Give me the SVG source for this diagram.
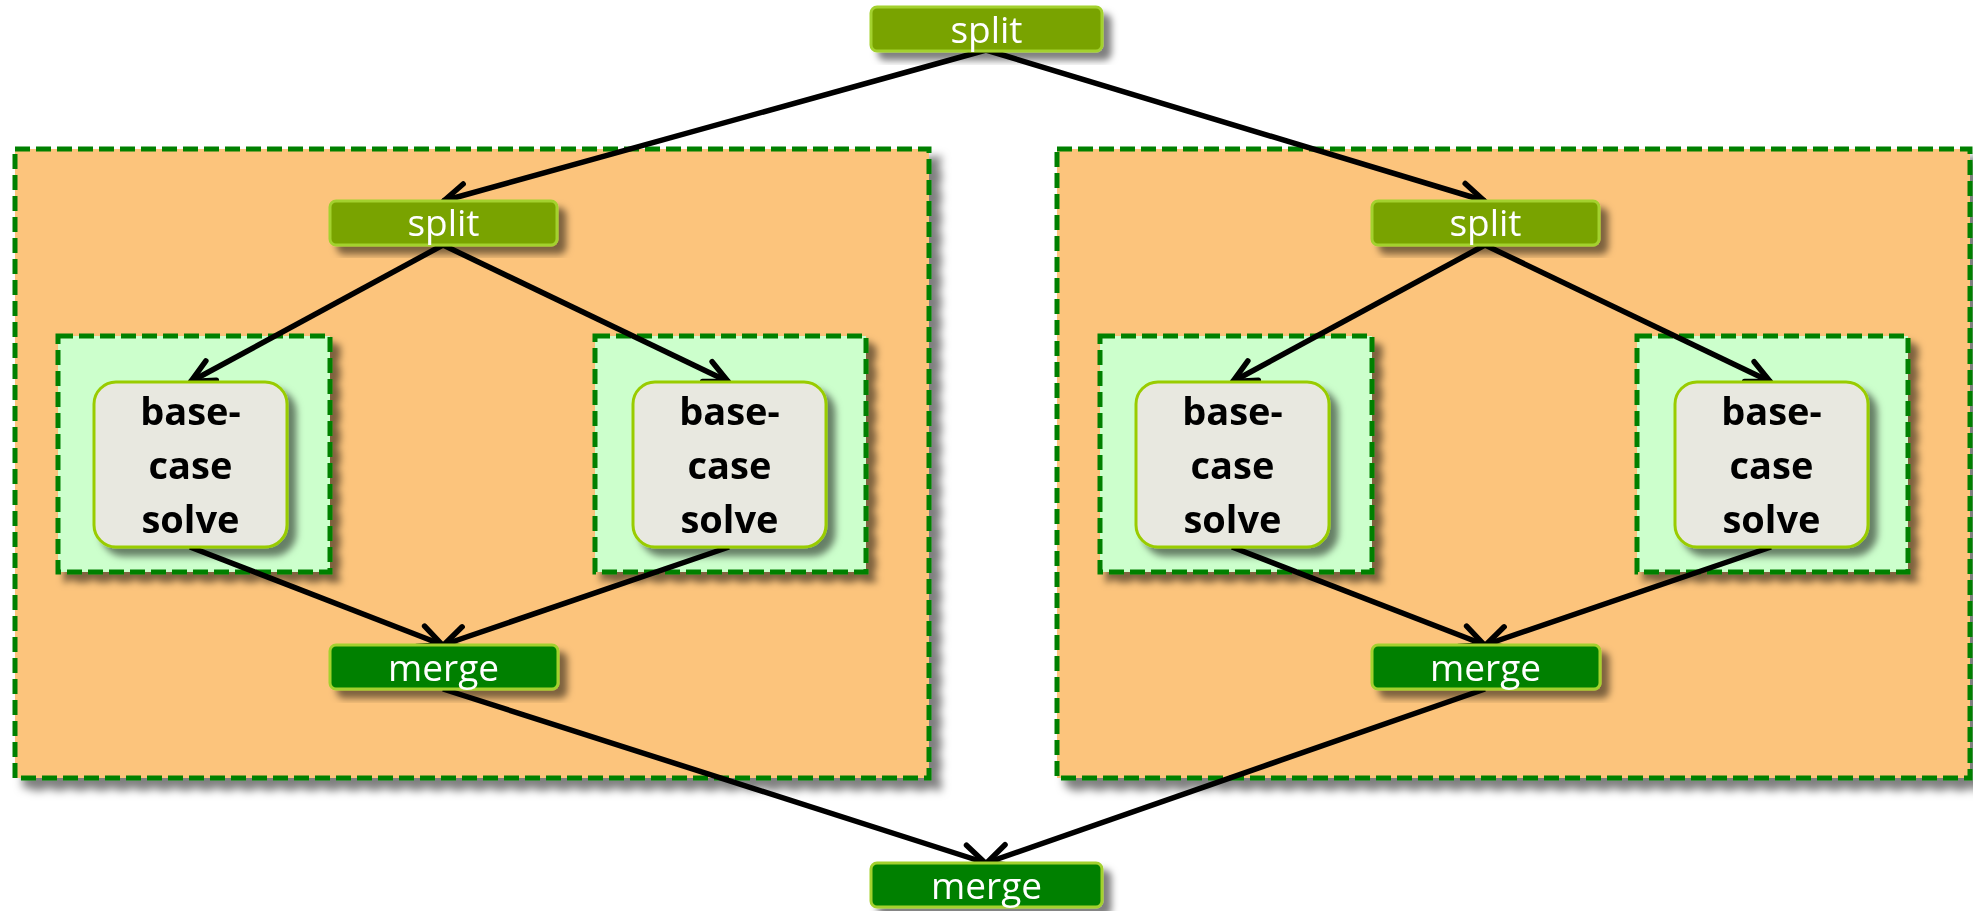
<svg xmlns="http://www.w3.org/2000/svg" width="1973" height="911" viewBox="0 0 1973 911">
  <defs>
    <filter id="shadow" x="-10%" y="-10%" width="130%" height="130%">
      <feDropShadow dx="8" dy="8" stdDeviation="3.5" flood-color="#000" flood-opacity="0.5"/>
    </filter>
    <filter id="shadow-big" x="-5%" y="-5%" width="115%" height="115%">
      <feDropShadow dx="10" dy="10" stdDeviation="4" flood-color="#000" flood-opacity="0.5"/>
    </filter>
    <marker id="arrow" viewBox="-30 -18 36 36" refX="1" refY="0" markerWidth="36" markerHeight="36" markerUnits="userSpaceOnUse" orient="auto">
      <path d="M-23,-11 L0,0 L-23,11" fill="none" stroke="#000" stroke-width="5.5" stroke-linecap="round" stroke-linejoin="miter"/>
    </marker>
    <style>
      .cluster { fill: #fcc47c; stroke: #008000; stroke-width: 5; stroke-dasharray: 15 6; }
      .leaf { fill: #ccffcc; stroke: #008000; stroke-width: 5; stroke-dasharray: 15 6; }
      .split { fill: #79a300; stroke: #a3d12e; stroke-width: 3; }
      .merge { fill: #008000; stroke: #a3d12e; stroke-width: 3; }
      .solve { fill: #e8e8e0; stroke: #99cc00; stroke-width: 3; }
      .lbl { font-family: "Open Sans", "Noto Sans", sans-serif; font-size: 37px; fill: #ffffff; text-anchor: middle; }
      .blbl { font-family: "Open Sans", "Noto Sans", sans-serif; font-size: 38px; font-weight: bold; fill: #000; text-anchor: middle; }
      .edge { fill: none; stroke: #000; stroke-width: 5.5; marker-end: url(#arrow); }
    </style>
  </defs>

  <!-- outer sub-problem clusters -->
  <g id="cluster-left" filter="url(#shadow-big)">
    <rect class="cluster" x="15" y="149" width="914" height="629"/>
  </g>
  <g id="cluster-right" filter="url(#shadow-big)">
    <rect class="cluster" x="1057" y="149" width="913" height="629"/>
  </g>

  <!-- leaf clusters -->
  <g id="leaf-1" filter="url(#shadow)"><rect class="leaf" x="58" y="336" width="272" height="236"/></g>
  <g id="leaf-2" filter="url(#shadow)"><rect class="leaf" x="595" y="336" width="271" height="236"/></g>
  <g id="leaf-3" filter="url(#shadow)"><rect class="leaf" x="1100" y="336" width="272" height="236"/></g>
  <g id="leaf-4" filter="url(#shadow)"><rect class="leaf" x="1637" y="336" width="271" height="236"/></g>

  <!-- connectors -->
  <g id="connectors">
    <line class="edge" x1="986" y1="50" x2="443" y2="201"/>
    <line class="edge" x1="986" y1="50" x2="1485" y2="201"/>
    <line class="edge" x1="443" y1="245" x2="190" y2="382"/>
    <line class="edge" x1="443" y1="245" x2="729" y2="382"/>
    <line class="edge" x1="1485" y1="245" x2="1232" y2="382"/>
    <line class="edge" x1="1485" y1="245" x2="1771" y2="382"/>
    <line class="edge" x1="190" y1="547" x2="443" y2="645"/>
    <line class="edge" x1="729" y1="547" x2="443" y2="645"/>
    <line class="edge" x1="1232" y1="547" x2="1485" y2="645"/>
    <line class="edge" x1="1771" y1="547" x2="1485" y2="645"/>
    <line class="edge" x1="443" y1="689" x2="986" y2="863"/>
    <line class="edge" x1="1485" y1="689" x2="986" y2="863"/>
  </g>

  <!-- split nodes -->
  <g id="split-top" filter="url(#shadow)">
    <rect class="split" x="871" y="7" width="231" height="44" rx="6"/>
    <text class="lbl" x="986.5" y="43">split</text>
  </g>
  <g id="split-left" filter="url(#shadow)">
    <rect class="split" x="330" y="201" width="227" height="44" rx="6"/>
    <text class="lbl" x="443.5" y="236">split</text>
  </g>
  <g id="split-right" filter="url(#shadow)">
    <rect class="split" x="1372" y="201" width="227" height="44" rx="6"/>
    <text class="lbl" x="1485.5" y="236">split</text>
  </g>

  <!-- base-case solve nodes -->
  <g id="solve-1" filter="url(#shadow)">
    <rect class="solve" x="94" y="382" width="193" height="165" rx="22"/>
    <text class="blbl" x="190.5"><tspan x="190.5" y="425">base-</tspan><tspan x="190.5" y="479">case</tspan><tspan x="190.5" y="533">solve</tspan></text>
  </g>
  <g id="solve-2" filter="url(#shadow)">
    <rect class="solve" x="633" y="382" width="193" height="165" rx="22"/>
    <text class="blbl" x="729.5"><tspan x="729.5" y="425">base-</tspan><tspan x="729.5" y="479">case</tspan><tspan x="729.5" y="533">solve</tspan></text>
  </g>
  <g id="solve-3" filter="url(#shadow)">
    <rect class="solve" x="1136" y="382" width="193" height="165" rx="22"/>
    <text class="blbl" x="1232.5"><tspan x="1232.5" y="425">base-</tspan><tspan x="1232.5" y="479">case</tspan><tspan x="1232.5" y="533">solve</tspan></text>
  </g>
  <g id="solve-4" filter="url(#shadow)">
    <rect class="solve" x="1675" y="382" width="193" height="165" rx="22"/>
    <text class="blbl" x="1771.5"><tspan x="1771.5" y="425">base-</tspan><tspan x="1771.5" y="479">case</tspan><tspan x="1771.5" y="533">solve</tspan></text>
  </g>

  <!-- merge nodes -->
  <g id="merge-left" filter="url(#shadow)">
    <rect class="merge" x="330" y="645" width="228" height="44" rx="6"/>
    <text class="lbl" x="443.5" y="681">merge</text>
  </g>
  <g id="merge-right" filter="url(#shadow)">
    <rect class="merge" x="1372" y="645" width="228" height="44" rx="6"/>
    <text class="lbl" x="1485.5" y="681">merge</text>
  </g>
  <g id="merge-bottom" filter="url(#shadow)">
    <rect class="merge" x="871" y="863" width="231" height="44" rx="6"/>
    <text class="lbl" x="986.5" y="899">merge</text>
  </g>
</svg>
